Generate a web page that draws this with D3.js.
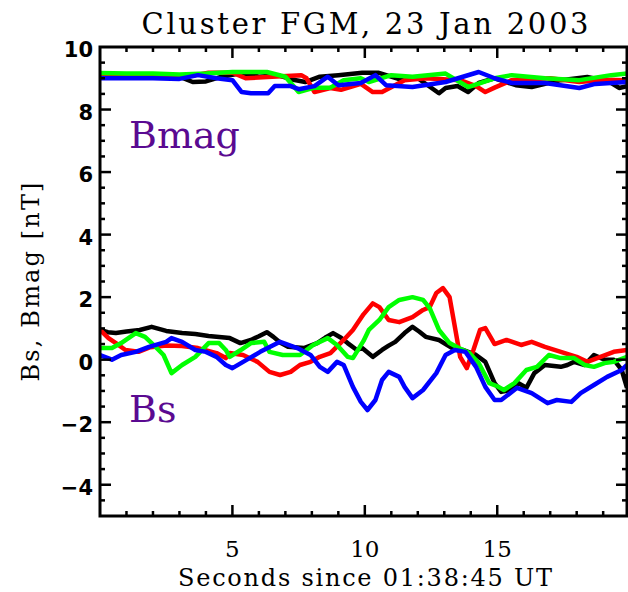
<!DOCTYPE html>
<html>
<head>
<meta charset="utf-8">
<script src="https://cdn.jsdelivr.net/npm/d3@7"></script>
<style>
  body { margin: 0; background: #fff; }
</style>
</head>
<body>
<script>
(function(){
//time in seconds since 01:38:45 UT, field in nT
var bsBlack = [[0,0.95],[0.3,0.88],[0.6,0.85],[1.0,0.9],[1.5,0.95],[1.95,1.05],[2.5,0.92],[3.1,0.85],[3.6,0.82],[4.1,0.76],[4.6,0.72],[4.9,0.69],[5.3,0.53],[5.7,0.63],[6.0,0.75],[6.3,0.88],[6.55,0.73],[6.8,0.55],[7.1,0.41],[7.7,0.37],[8.2,0.53],[8.5,0.7],[8.8,0.85],[9.1,0.7],[9.35,0.53],[9.7,0.31],[9.9,0.37],[10.3,0.09],[10.65,0.31],[10.9,0.45],[11.15,0.57],[11.5,0.85],[11.8,1.05],[12.05,0.9],[12.3,0.73],[12.8,0.63],[13.3,0.37],[13.7,0.31],[14.2,0.15],[14.55,-0.07],[14.9,-0.75],[15.15,-1.03],[15.5,-0.97],[15.8,-0.75],[16.1,-0.9],[16.4,-0.43],[16.8,-0.17],[17.4,-0.23],[17.65,-0.17],[17.9,-0.07],[18.3,-0.17],[18.65,0.15],[19.05,0],[19.4,0],[19.7,-0.33],[19.9,-0.9]];
var bsRed = [[0,0.95],[0.32,0.69],[0.6,0.53],[0.96,0.31],[1.45,0.25],[1.9,0.4],[2.5,0.45],[3.1,0.44],[3.7,0.37],[4.4,0.21],[4.75,0.05],[4.9,0.21],[5.4,0.15],[5.95,-0.07],[6.4,-0.39],[6.8,-0.49],[7.2,-0.39],[7.55,-0.17],[7.95,-0.07],[8.3,0.09],[8.7,0.21],[9.2,0.63],[9.55,0.95],[9.95,1.45],[10.3,1.8],[10.55,1.68],[10.9,1.27],[11.3,1.2],[11.8,1.36],[12.2,1.59],[12.45,1.68],[12.7,2.13],[12.95,2.29],[13.2,2.0],[13.4,1.05],[13.6,0.09],[13.85,-0.27],[14.1,0.31],[14.35,0.95],[14.55,1.01],[14.9,0.5],[15.35,0.63],[15.9,0.47],[16.3,0.57],[16.8,0.41],[17.4,0.25],[18.0,0.09],[18.4,-0.07],[18.9,0.09],[19.4,0.25],[19.9,0.31]];
var bsGreen = [[0,0.37],[0.45,0.37],[0.8,0.53],[1.35,0.85],[1.7,0.73],[2.1,0.41],[2.4,0.15],[2.7,-0.43],[3.1,-0.17],[3.6,0.09],[4.1,0.53],[4.5,0.53],[4.75,0.31],[4.9,0.09],[5.3,0.3],[5.7,0.53],[6.2,0.57],[6.4,0.25],[6.9,0.15],[7.55,0.15],[8.05,0.47],[8.6,0.69],[8.95,0.47],[9.35,0.09],[9.55,0.05],[9.95,0.6],[10.15,0.95],[10.55,1.27],[10.9,1.68],[11.3,1.91],[11.8,2.0],[12.2,1.91],[12.45,1.65],[12.8,0.95],[13.2,0.53],[13.55,0.37],[13.95,0.21],[14.3,-0.11],[14.7,-0.75],[15.0,-0.85],[15.25,-0.97],[15.65,-0.75],[16.1,-0.33],[16.5,-0.23],[16.95,0.15],[17.4,0.05],[17.9,0.05],[18.3,-0.17],[18.65,-0.23],[19.05,-0.11],[19.4,-0.07],[19.9,0.09]];
var bsBlue = [[0,0.15],[0.45,0],[0.8,0.15],[1.35,0.25],[1.85,0.41],[2.5,0.57],[2.7,0.69],[3.1,0.57],[3.6,0.31],[4.0,0.25],[4.4,0.09],[4.75,-0.17],[5.0,-0.27],[5.55,0],[6.05,0.25],[6.8,0.57],[7.45,0.37],[7.95,0.15],[8.3,-0.23],[8.6,-0.39],[8.95,-0.07],[9.2,-0.17],[9.55,-0.87],[9.85,-1.35],[10.1,-1.61],[10.4,-1.29],[10.65,-0.65],[10.9,-0.39],[11.3,-0.55],[11.5,-0.87],[11.8,-1.23],[12.2,-0.97],[12.7,-0.43],[13.05,0.15],[13.4,0.31],[13.8,0.25],[14.2,-0.23],[14.55,-0.87],[14.9,-1.29],[15.15,-1.29],[15.75,-0.9],[16.3,-1.07],[16.9,-1.39],[17.25,-1.29],[17.8,-1.35],[18.15,-1.07],[18.65,-0.81],[19.15,-0.55],[19.7,-0.33],[19.9,-0.17]];

var bmagBlack = [[0,9.05],[1,9.1],[2,9.05],[3,9.05],[3.5,8.88],[4.0,8.9],[4.6,9.05],[5.35,9.17],[6,9.05],[6.7,9.1],[7.3,8.95],[7.75,8.88],[8.3,9.05],[9,9.1],[9.9,9.18],[10.5,9.18],[11.3,8.97],[12,9.0],[12.8,8.52],[13.05,8.69],[13.5,8.75],[13.9,8.56],[14.3,8.85],[14.9,9.0],[15.7,8.78],[16.3,8.72],[17.4,8.94],[18.4,9.04],[19.2,8.9],[19.6,8.69],[19.9,8.75]];
var bmagRed = [[0,9.1],[1,9.05],[2,9.05],[3,9.05],[3.6,9.1],[4.1,9.18],[5.0,9.18],[5.5,9.0],[6.5,9.05],[7.6,9.1],[7.8,9.0],[8.1,8.56],[8.7,8.69],[9.1,8.63],[9.85,8.82],[10.3,8.56],[10.65,8.56],[11.5,8.94],[12.3,9.0],[13.6,8.94],[14.2,8.75],[14.55,8.56],[14.9,8.7],[15.55,8.94],[17.0,9.0],[18.1,8.88],[19.0,8.95],[19.9,8.94]];
var bmagGreen = [[0,9.17],[1,9.15],[2,9.15],[3,9.12],[4,9.15],[5,9.2],[6.3,9.2],[7.0,9.05],[7.5,8.56],[8.1,8.7],[8.7,8.7],[9.2,8.94],[9.85,9.0],[10.15,8.88],[11.0,9.1],[11.8,9.05],[13.05,9.15],[13.9,8.72],[14.9,9.0],[15.55,9.1],[16.8,9.0],[18.1,8.94],[19.3,9.1],[19.9,9.15]];
var bmagBlue = [[0,9.0],[1,9.0],[2,9.0],[3,8.98],[3.7,9.1],[4.4,9.0],[5.0,8.94],[5.35,8.56],[5.7,8.52],[6.35,8.52],[6.6,8.75],[7.2,8.75],[7.5,8.65],[8.1,8.75],[8.6,9.05],[9.0,8.78],[9.85,8.85],[10.4,9.1],[10.8,8.78],[11.8,8.72],[13.05,8.88],[14.3,9.2],[14.9,9.0],[15.55,8.85],[16.8,8.85],[18.1,8.69],[18.7,8.82],[19.9,8.88]];

var xTicks = [5, 10, 15];
var yTicks = [-4, -2, 0, 2, 4, 6, 8, 10];
var seriesColors = ["#000000", "#ff0000", "#00ff00", "#0000ff"];

var width = 628, height = 592;
var margin = {top: 47, right: 1, bottom: 76, left: 100};

var svg = d3.select("body").append("svg")
    .attr("width", width)
    .attr("height", height);

var x = d3.scaleLinear().domain([0, 19.9]).range([margin.left, width - margin.right]);
var y = d3.scaleLinear().domain([-5, 10]).range([height - margin.bottom, margin.top]);

//clip the traces to the plot box
svg.append("clipPath").attr("id", "box")
  .append("rect")
    .attr("x", x(0)).attr("y", y(10))
    .attr("width", x(19.9) - x(0)).attr("height", y(-5) - y(10));

var line = d3.line()
    .x(function(d){ return x(d[0]); })
    .y(function(d){ return y(d[1]); });

var traces = [bsBlack, bsRed, bsGreen, bsBlue, bmagBlack, bmagRed, bmagGreen, bmagBlue];
var g = svg.append("g").attr("clip-path", "url(#box)");
[0, 1, 2, 3].forEach(function(i){
    [traces[i], traces[i + 4]].forEach(function(s){
        g.append("path")
            .datum(s)
            .attr("d", line)
            .attr("fill", "none")
            .attr("stroke", seriesColors[i])
            .attr("stroke-width", 4.5)
            .attr("stroke-linejoin", "round");
    });
});

//inward ticks on all four sides, IDL style
var majorLen = 11, minorLen = 5;
var minorX = d3.range(1, 20, 1);
var minorY = d3.range(-4.5, 10, 0.5);
var axisG = svg.append("g").attr("stroke", "#000").attr("stroke-width", 2.5);

minorX.forEach(function(t){
    var len = (t % 5 === 0) ? majorLen : minorLen;
    axisG.append("line").attr("x1", x(t)).attr("x2", x(t)).attr("y1", y(-5)).attr("y2", y(-5) - len);
    axisG.append("line").attr("x1", x(t)).attr("x2", x(t)).attr("y1", y(10)).attr("y2", y(10) + len);
});
minorY.forEach(function(v){
    var len = (v % 2 === 0) ? majorLen : minorLen;
    axisG.append("line").attr("x1", x(0)).attr("x2", x(0) + len).attr("y1", y(v)).attr("y2", y(v));
    axisG.append("line").attr("x1", x(19.9)).attr("x2", x(19.9) - len).attr("y1", y(v)).attr("y2", y(v));
});

svg.append("rect")
    .attr("x", x(0)).attr("y", y(10))
    .attr("width", x(19.9) - x(0)).attr("height", y(-5) - y(10))
    .attr("fill", "none")
    .attr("stroke", "#000")
    .attr("stroke-width", 3);

//tick labels
svg.selectAll(".ylab").data(yTicks).enter().append("text")
    .attr("class", "ylab")
    .attr("x", 93)
    .attr("y", function(d){ return y(d) + 10; })
    .attr("text-anchor", "end")
    .style("font-family", "DejaVu Sans")
    .style("font-weight", "bold")
    .style("font-size", "21px")
    .text(function(d){ return d < 0 ? "\u2212" + Math.abs(d) : d; });

svg.selectAll(".xlab").data(xTicks).enter().append("text")
    .attr("class", "xlab")
    .attr("x", function(d){ return x(d); })
    .attr("y", 557)
    .attr("text-anchor", "middle")
    .style("font-family", "DejaVu Serif")
    .style("font-size", "23px")
    .text(function(d){ return d; });

//titles
svg.append("text")
    .attr("x", 365).attr("y", 34)
    .attr("text-anchor", "middle")
    .attr("textLength", 447).attr("lengthAdjust", "spacing")
    .style("font-family", "DejaVu Serif").style("font-size", "29px")
    .text("Cluster FGM, 23 Jan 2003");

svg.append("text")
    .attr("x", 365).attr("y", 586)
    .attr("text-anchor", "middle")
    .attr("textLength", 374).attr("lengthAdjust", "spacing")
    .style("font-family", "DejaVu Serif").style("font-size", "24px")
    .text("Seconds since 01:38:45 UT");

svg.append("text")
    .attr("transform", "translate(39,282) rotate(-90)")
    .attr("text-anchor", "middle")
    .attr("textLength", 199).attr("lengthAdjust", "spacing")
    .style("font-family", "DejaVu Serif").style("font-size", "24px")
    .text("Bs, Bmag [nT]");

//in-plot labels
svg.append("text")
    .attr("x", 129).attr("y", 148)
    .attr("fill", "#5a0a91")
    .style("font-family", "DejaVu Serif").style("font-size", "38px")
    .text("Bmag");

svg.append("text")
    .attr("x", 129).attr("y", 422)
    .attr("fill", "#5a0a91")
    .style("font-family", "DejaVu Serif").style("font-size", "38px")
    .text("Bs");
})();
</script>
</body>
</html>
